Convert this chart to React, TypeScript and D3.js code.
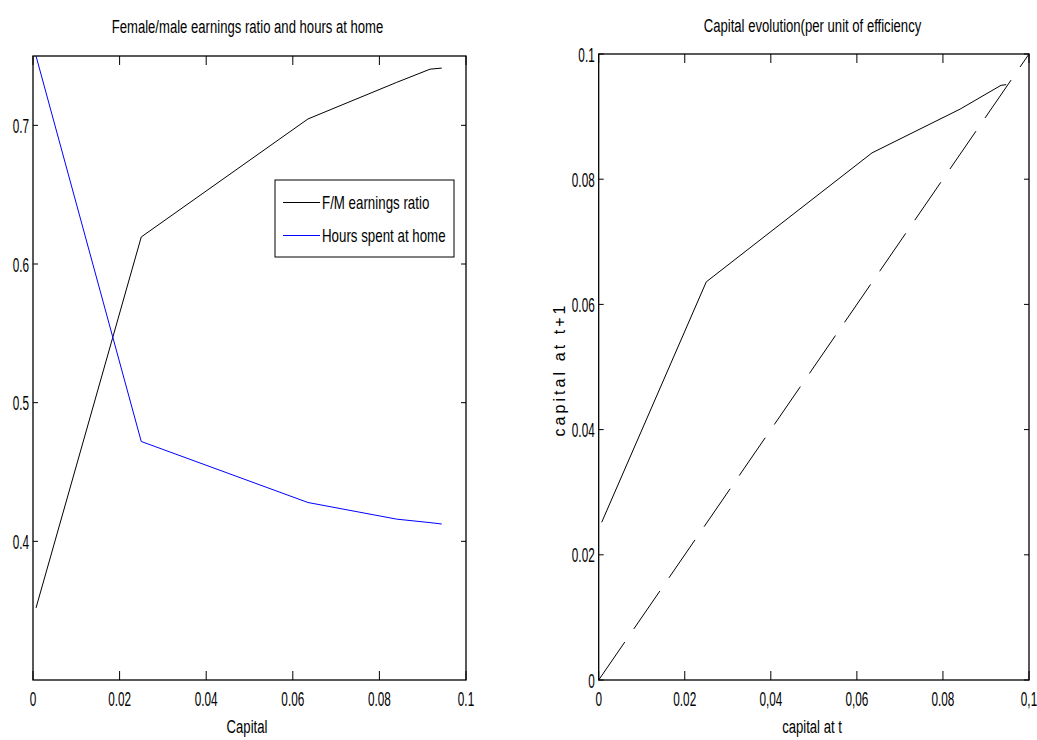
import React from "react";
import * as d3 from "d3";

// ---- data ----
const capital = [0.0007, 0.025, 0.0635, 0.084, 0.0917, 0.0944];
const fmRatio = [0.352, 0.6195, 0.7046, 0.731, 0.7405, 0.7413];
const hoursHome = [0.75, 0.472, 0.428, 0.416, 0.4135, 0.4125];

const capitalT = [0.0007, 0.025, 0.0635, 0.084, 0.0935, 0.0947];
const capitalT1 = [0.0252, 0.0636, 0.0842, 0.0912, 0.095, 0.0951];
const diagonal = [0, 0.1];

const leftXTicks = [0, 0.02, 0.04, 0.06, 0.08, 0.1];
const leftXLabels = ["0", "0.02", "0.04", "0.06", "0.08", "0.1"];
const leftYTicks = [0.4, 0.5, 0.6, 0.7];
const leftYLabels = ["0.4", "0.5", "0.6", "0.7"];
const rightXTicks = [0, 0.02, 0.04, 0.06, 0.08, 0.1];
const rightXLabels = ["0", "0.02", "0,04", "0,06", "0.08", "0,1"];
const rightYTicks = [0, 0.02, 0.04, 0.06, 0.08, 0.1];
const rightYLabels = ["0", "0.02", "0.04", "0.06", "0.08", "0.1"];

const FONT = "'Liberation Sans', Arial, sans-serif";

function NText(props: {
  x: number; y: number; size: number; sx: number; anchor?: string; children: any; dy?: string;
}) {
  return (
    <text
      transform={`translate(${props.x},${props.y}) scale(${props.sx},1)`}
      fontSize={props.size}
      fontFamily={FONT}
      textAnchor={props.anchor || "middle"}
      dy={props.dy}
      fill="#000"
    >
      {props.children}
    </text>
  );
}

function Frame(props: {
  xs: d3.ScaleLinear<number, number>;
  ys: d3.ScaleLinear<number, number>;
  xTicks: number[]; xLabels: string[]; yTicks: number[]; yLabels: string[];
}) {
  const { xs, ys } = props;
  const [x0, x1] = xs.range();
  const [y0, y1] = ys.range(); // y0 bottom, y1 top
  const TX = 9, TY = 5;
  return (
    <g>
      {props.xTicks.map((t, i) => (
        <g key={"xt" + i}>
          <line x1={xs(t)} x2={xs(t)} y1={y0} y2={y0 - TX} stroke="#000" strokeWidth={1} />
          <line x1={xs(t)} x2={xs(t)} y1={y1} y2={y1 + TX} stroke="#000" strokeWidth={1} />
          <NText x={xs(t)} y={706} size={21} sx={0.56}>{props.xLabels[i]}</NText>
        </g>
      ))}
      {props.yTicks.map((t, i) => (
        <g key={"yt" + i}>
          <line x1={x0} x2={x0 + TY} y1={ys(t)} y2={ys(t)} stroke="#000" strokeWidth={1} />
          <line x1={x1} x2={x1 - TY} y1={ys(t)} y2={ys(t)} stroke="#000" strokeWidth={1} />
          <NText x={x0 - 4} y={ys(t)} dy="0.36em" size={21} sx={0.56} anchor="end">{props.yLabels[i]}</NText>
        </g>
      ))}
      <rect x={x0} y={y1} width={x1 - x0} height={y0 - y1} fill="none" stroke="#000" strokeWidth={1.3} />
    </g>
  );
}

export default function App() {
  const lx = d3.scaleLinear().domain([0, 0.1]).range([33, 466]);
  const ly = d3.scaleLinear().domain([0.3, 0.75]).range([680, 56]);
  const rx = d3.scaleLinear().domain([0, 0.1]).range([598.7, 1029]);
  const ry = d3.scaleLinear().domain([0, 0.1]).range([680, 54]);

  const lineL = d3.line<[number, number]>().x(d => lx(d[0])).y(d => ly(d[1]));
  const lineR = d3.line<[number, number]>().x(d => rx(d[0])).y(d => ry(d[1]));

  const fmPts = capital.map((c, i) => [c, fmRatio[i]] as [number, number]);
  const hPts = capital.map((c, i) => [c, hoursHome[i]] as [number, number]);
  const kPts = capitalT.map((c, i) => [c, capitalT1[i]] as [number, number]);
  const dPts = diagonal.map(v => [v, v] as [number, number]);

  return (
    <svg width={1037} height={740} style={{ position: "absolute", left: 0, top: 0, background: "#fff" }}>
      <rect x={0} y={0} width={1037} height={740} fill="#fff" />
      {/* Left panel */}
      <path d={lineL(fmPts) || ""} fill="none" stroke="#000" strokeWidth={1} />
      <path d={lineL(hPts) || ""} fill="none" stroke="#0000ff" strokeWidth={1} />
      <Frame xs={lx} ys={ly} xTicks={leftXTicks} xLabels={leftXLabels} yTicks={leftYTicks} yLabels={leftYLabels} />
      <NText x={247.5} y={33} size={19} sx={0.69}>Female/male earnings ratio and hours at home</NText>
      <NText x={247} y={733} size={19} sx={0.69}>Capital</NText>
      {/* legend */}
      <rect x={275} y={180} width={179} height={77} fill="#fff" stroke="#000" strokeWidth={1} />
      <line x1={283} x2={320} y1={202.5} y2={202.5} stroke="#000" strokeWidth={1} />
      <NText x={322} y={208.5} size={18} sx={0.74} anchor="start">F/M earnings ratio</NText>
      <line x1={283} x2={320} y1={235.5} y2={235.5} stroke="#0000ff" strokeWidth={1} />
      <NText x={322} y={242} size={18} sx={0.74} anchor="start">Hours spent at home</NText>

      {/* Right panel */}
      <path d={lineR(kPts) || ""} fill="none" stroke="#000" strokeWidth={1} />
      <path d={lineR(dPts) || ""} fill="none" stroke="#000" strokeWidth={1} strokeDasharray="46,16" />
      <Frame xs={rx} ys={ry} xTicks={rightXTicks} xLabels={rightXLabels} yTicks={rightYTicks} yLabels={rightYLabels} />
      <NText x={812.5} y={32} size={19} sx={0.69}>Capital evolution(per unit of efficiency</NText>
      <NText x={812} y={733} size={19} sx={0.69}>capital at t</NText>
      <text
        transform="translate(565,371) rotate(-90)"
        fontSize={16}
        fontFamily={FONT}
        textAnchor="middle"
        textLength={131}
        lengthAdjust="spacing"
        fill="#000"
      >
        capital at t+1
      </text>
    </svg>
  );
}
